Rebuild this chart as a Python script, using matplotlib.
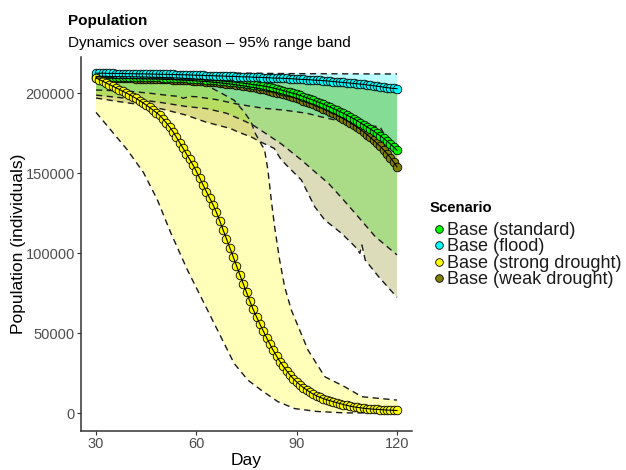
import numpy as np
import matplotlib.pyplot as plt
from matplotlib.lines import Line2D

plt.rcParams['font.family'] = ['Liberation Sans', 'DejaVu Sans']

# Tage und Mittelwerte (in Tausend Individuen)
days = np.arange(30, 121)

standard_mean = [
    210.5, 210.5, 210.5, 210.5, 210.4, 210.4, 210.4, 210.4, 210.3, 210.3,
    210.3, 210.3, 210.2, 210.2, 210.1, 210.1, 210.0, 210.0, 209.9, 209.9,
    209.8, 209.7, 209.7, 209.6, 209.5, 209.4, 209.3, 209.2, 209.1, 209.0,
    208.8, 208.7, 208.6, 208.4, 208.3, 208.1, 208.0, 207.8, 207.6, 207.4,
    207.2, 207.0, 206.8, 206.5, 206.3, 206.0, 205.7, 205.4, 205.1, 204.8,
    204.5, 204.1, 203.7, 203.2, 202.7, 202.2, 201.6, 201.0, 200.5, 199.9,
    199.3, 198.6, 197.9, 197.2, 196.4, 195.6, 194.8, 194.0, 193.1, 192.2,
    191.3, 190.4, 189.4, 188.4, 187.4, 186.3, 185.2, 184.1, 182.9, 181.6,
    180.2, 179.0, 177.7, 176.3, 174.9, 173.4, 171.8, 170.1, 168.3, 166.4,
    164.4]
flood_mean = [
    212.5, 212.5, 212.5, 212.4, 212.4, 212.4, 212.3, 212.3, 212.3, 212.2,
    212.2, 212.2, 212.1, 212.1, 212.1, 212.0, 212.0, 211.9, 211.9, 211.8,
    211.8, 211.8, 211.7, 211.7, 211.6, 211.6, 211.5, 211.5, 211.4, 211.3,
    211.2, 211.2, 211.1, 211.0, 211.0, 210.9, 210.8, 210.8, 210.7, 210.6,
    210.5, 210.5, 210.4, 210.3, 210.2, 210.2, 210.1, 210.0, 209.9, 209.9,
    209.8, 209.7, 209.6, 209.5, 209.4, 209.4, 209.3, 209.2, 209.1, 209.0,
    208.8, 208.7, 208.6, 208.5, 208.4, 208.2, 208.1, 208.0, 207.8, 207.7,
    207.5, 207.3, 207.1, 206.9, 206.7, 206.5, 206.3, 206.1, 205.9, 205.7,
    205.5, 205.2, 204.9, 204.7, 204.4, 204.1, 203.8, 203.5, 203.2, 203.0,
    202.8]
strong_mean = [
    209.5, 208.5, 207.5, 206.4, 205.4, 204.4, 203.3, 202.3, 201.2, 200.2,
    199.1, 197.9, 196.7, 195.4, 194.0, 192.6, 191.1, 189.5, 187.9, 186.2,
    184.0, 181.5, 178.9, 176.0, 172.6, 169.2, 165.7, 162.2, 158.7, 155.2,
    151.2, 147.0, 142.8, 138.5, 134.4, 130.3, 125.6, 120.2, 114.6, 109.1,
    103.5, 97.9, 92.3, 86.7, 81.1, 75.6, 70.1, 64.9, 60.3, 55.8,
    51.5, 47.3, 43.2, 39.3, 35.8, 32.4, 29.4, 26.6, 24.0, 21.7,
    19.6, 17.8, 16.1, 14.6, 13.2, 12.0, 10.9, 10.0, 9.2, 8.5,
    7.9, 7.3, 6.7, 6.1, 5.5, 5.0, 4.5, 4.1, 3.8, 3.5,
    3.2, 3.0, 2.8, 2.6, 2.5, 2.4, 2.2, 2.1, 2.0, 1.9,
    1.8]
weak_mean = [
    209.5, 209.5, 209.5, 209.4, 209.4, 209.4, 209.3, 209.3, 209.3, 209.2,
    209.2, 209.2, 209.1, 209.1, 209.0, 209.0, 208.9, 208.9, 208.8, 208.8,
    208.7, 208.6, 208.6, 208.5, 208.4, 208.3, 208.2, 208.1, 208.0, 207.9,
    207.7, 207.6, 207.4, 207.3, 207.1, 206.9, 206.7, 206.5, 206.3, 206.0,
    205.8, 205.5, 205.2, 204.9, 204.6, 204.3, 203.9, 203.6, 203.2, 202.8,
    202.4, 201.9, 201.4, 200.9, 200.4, 199.9, 199.3, 198.7, 198.1, 197.5,
    196.8, 196.1, 195.4, 194.6, 193.8, 193.0, 192.2, 191.3, 190.4, 189.4,
    188.4, 187.4, 186.3, 185.2, 184.0, 182.8, 181.5, 180.2, 178.8, 177.4,
    175.9, 174.2, 172.4, 170.6, 168.7, 166.8, 164.6, 162.3, 159.8, 157.0,
    154.0]

# 95%-Bänder: obere / untere Grenze (Tausend), jeweils mit eigenen Stütztagen
standard_hi_days = [30, 60, 90, 105, 120]
standard_hi = [211.5, 211.0, 209.0, 207.0, 204.0]
standard_lo_days = [30, 36, 43, 50, 57, 63, 69, 74, 77, 81, 85.4, 91.4, 95.4,
                    99.5, 103.5, 107.5, 113.5, 120]
standard_lo = [198.8, 197.5, 196.0, 194.0, 191.7, 190.4, 187.5, 183.0, 180.0,
               174.5, 168.3, 158.3, 151.0, 143.7, 134.5, 125.0, 110.4, 99.0]

flood_hi_days = [30, 60, 90, 120]
flood_hi = [213.5, 212.8, 212.2, 212.0]
flood_lo_days = [30, 40, 46, 52, 55, 56, 58, 60, 66, 72, 80, 86, 93, 97, 101,
                 105, 110, 113, 115, 116.5, 118, 120]
flood_lo = [202.0, 201.2, 200.0, 198.5, 198.0, 196.8, 198.0, 197.8, 196.0,
            193.3, 190.6, 189.5, 187.5, 185.4, 183.5, 181.5, 180.0, 179.5,
            178.8, 173.0, 168.0, 163.0]

strong_hi_days = [30, 45, 55, 60, 63.8, 67.5, 71.3, 74.3, 76.4, 77.4, 78.9,
                  80.4, 81.4, 82.4, 83.4, 84.9, 86.4, 88.4, 93.4, 98.4, 104.4,
                  109.5, 120]
strong_hi = [210.0, 209.5, 208.5, 207.5, 204.1, 200.0, 195.6, 188.3, 182.0,
             175.8, 170.0, 164.6, 152.0, 133.3, 116.6, 95.8, 79.1, 64.6, 39.5,
             22.9, 16.6, 10.4, 8.3]
strong_lo_days = [30, 34.2, 39.2, 44.2, 48.3, 52.3, 57.3, 61.3, 66.3, 71.3,
                  75.4, 79.4, 84.4, 89.4, 96, 104.4, 120]
strong_lo = [188.0, 177.5, 165.0, 150.4, 133.6, 113.0, 89.7, 73.0, 52.1, 31.2,
             20.8, 14.5, 7.3, 3.0, 1.2, 0.3, 0.3]

weak_hi_days = [30, 60, 90, 105, 120]
weak_hi = [211.0, 210.5, 208.5, 206.5, 203.0]
weak_lo_days = [30, 36, 43, 50, 56.8, 62.8, 70.3, 72.4, 76.4, 78.8, 83.3, 85.4,
                91.4, 95.4, 98.4, 103.4, 107.5, 108.9, 109.5, 110.5, 114.5, 120]
weak_lo = [197.0, 195.0, 192.9, 190.0, 186.4, 182.0, 177.9, 175.8, 172.7,
           170.0, 165.5, 158.3, 145.8, 129.1, 120.8, 112.5, 104.1, 100.0,
           105.2, 95.8, 85.4, 72.5]

labels = ['Base (standard)', 'Base (flood)', 'Base (strong drought)',
          'Base (weak drought)']
colors = ['#00ff00', '#00ffff', '#ffff00', '#808000']

means = [standard_mean, flood_mean, strong_mean, weak_mean]
bands = [
    (standard_hi_days, standard_hi, standard_lo_days, standard_lo),
    (flood_hi_days, flood_hi, flood_lo_days, flood_lo),
    (strong_hi_days, strong_hi, strong_lo_days, strong_lo),
    (weak_hi_days, weak_hi, weak_lo_days, weak_lo),
]

fig = plt.figure(figsize=(6.26, 4.70), dpi=100)
ax = fig.add_axes([0.1294, 0.083, 0.5288, 0.796])

# Bänder
for (hd, hi, ld, lo), c in zip(bands, colors):
    hi = np.array(hi) * 1000
    lo = np.array(lo) * 1000
    xs = np.concatenate([hd, ld[::-1]])
    ys = np.concatenate([hi, lo[::-1]])
    ax.fill(xs, ys, color=c, alpha=0.27, lw=0, zorder=1)
    for xx, yy in [(hd, hi), (ld, lo)]:
        ax.plot(xx, yy, color='#1a1a1a', lw=1.0, ls=(0, (4.5, 3.2)), zorder=2)

# Punkte, dann Linien
for i in [3, 0, 1, 2]:
    ax.plot(days, np.array(means[i]) * 1000, 'o', ms=6.2, mfc=colors[i],
            mec='black', mew=0.6, ls='', zorder=3)
for i in [3, 0, 1, 2]:
    ax.plot(days, np.array(means[i]) * 1000, color='black', lw=0.8, zorder=4)

ax.set_xlim(25.5, 124.5)
ax.set_ylim(-11000, 222700)
ax.set_xticks([30, 60, 90, 120])
ax.set_yticks([0, 50000, 100000, 150000, 200000])
ax.set_yticklabels(['0', '50000', '100000', '150000', '200000'])
ax.tick_params(labelsize=10.5, labelcolor='#4d4d4d', color='#333333',
               length=3, width=0.8, pad=1.5)
for s in ['top', 'right']:
    ax.spines[s].set_visible(False)
for s in ['left', 'bottom']:
    ax.spines[s].set_color('#333333')
    ax.spines[s].set_linewidth(1.1)

ax.set_xlabel('Day', fontsize=12.5, labelpad=1)
ax.set_ylabel('Population (individuals)', fontsize=12.5, labelpad=-0.5)

fig.text(68 / 626, 1 - 25 / 470, 'Population', fontsize=11, weight='bold',
         va='baseline')
fig.text(68 / 626, 1 - 47 / 470, 'Dynamics over season \u2013 95% range band',
         fontsize=11, va='baseline')

# Legende
fig.text(430 / 626, 1 - 212 / 470, 'Scenario', fontsize=10.7, weight='bold',
         va='baseline')
handles = [Line2D([], [], marker='o', ls='', ms=5.5, mfc=c, mec='black',
                  mew=0.6) for c in colors]
leg = fig.legend(handles, labels, loc='upper left',
                 bbox_to_anchor=(431 / 626, 1 - 222 / 470), frameon=False,
                 fontsize=13, handlelength=0.9, handletextpad=0.0,
                 labelspacing=-0.03, borderpad=0, borderaxespad=0)
for t in leg.get_texts():
    t.set_color('#1a1a1a')

plt.savefig('out.png', dpi=100)
